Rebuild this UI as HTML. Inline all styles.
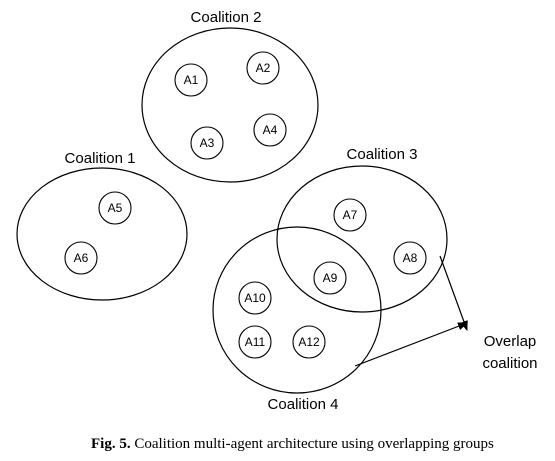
<!DOCTYPE html>
<html><head><meta charset="utf-8"><style>
html,body{margin:0;padding:0;background:#fff;}
svg{display:block;}
</style></head><body>
<svg width="555" height="461" viewBox="0 0 555 461" xmlns="http://www.w3.org/2000/svg">
<defs><marker id="ah" markerWidth="10" markerHeight="10" refX="9" refY="5" orient="auto" markerUnits="userSpaceOnUse"><path d="M0,1 L10,5 L0,9 z" fill="#000"/></marker></defs>
<g fill="none" stroke="#000" stroke-width="1.2">
<ellipse cx="230" cy="105" rx="88" ry="77"/>
<ellipse cx="102" cy="234" rx="85" ry="66"/>
<ellipse cx="362" cy="239" rx="85" ry="73"/>
<ellipse cx="297" cy="310" rx="84" ry="83"/>
<line x1="440" y1="256" x2="467" y2="330" marker-end="url(#ah)"/>
<line x1="355" y1="366" x2="467" y2="323" marker-end="url(#ah)"/>
</g>
<g font-family="Liberation Sans, sans-serif" font-size="15" text-anchor="middle" fill="#000">
<text x="226" y="22">Coalition 2</text>
<text x="100" y="163">Coalition 1</text>
<text x="382" y="159">Coalition 3</text>
<text x="303" y="409">Coalition 4</text>
<text x="510" y="346">Overlap</text>
<text x="510" y="368">coalition</text>
</g>
<g id="agents" font-family="Liberation Sans, sans-serif" font-size="12" text-anchor="middle"></g>
<text x="91" y="448" font-family="Liberation Serif, serif" font-size="15"><tspan font-weight="bold">Fig. 5.</tspan> Coalition multi-agent architecture using overlapping groups</text>
</svg>
<script>
const names=["A1","A2","A3","A4","A5","A6","A7","A8","A9","A10","A11","A12"];
const xs=[191,263,207,270,115,81,350,410,330,255,255,309];
const ys=[80,68,143,130,208,258,215,258,278,298,342,342];
const g=document.getElementById('agents');
const ns="http://www.w3.org/2000/svg";
names.forEach((n,i)=>{
 const c=document.createElementNS(ns,'circle');
 c.setAttribute('cx',xs[i]);c.setAttribute('cy',ys[i]);c.setAttribute('r',16);
 c.setAttribute('fill','#fff');c.setAttribute('stroke','#000');c.setAttribute('stroke-width','1.1');
 
 
 g.appendChild(c);
 const t=document.createElementNS(ns,'text');
 t.setAttribute('x',xs[i]);t.setAttribute('y',ys[i]+4);t.textContent=n;
 
 
 g.appendChild(t);
});
</script>
</body></html>
